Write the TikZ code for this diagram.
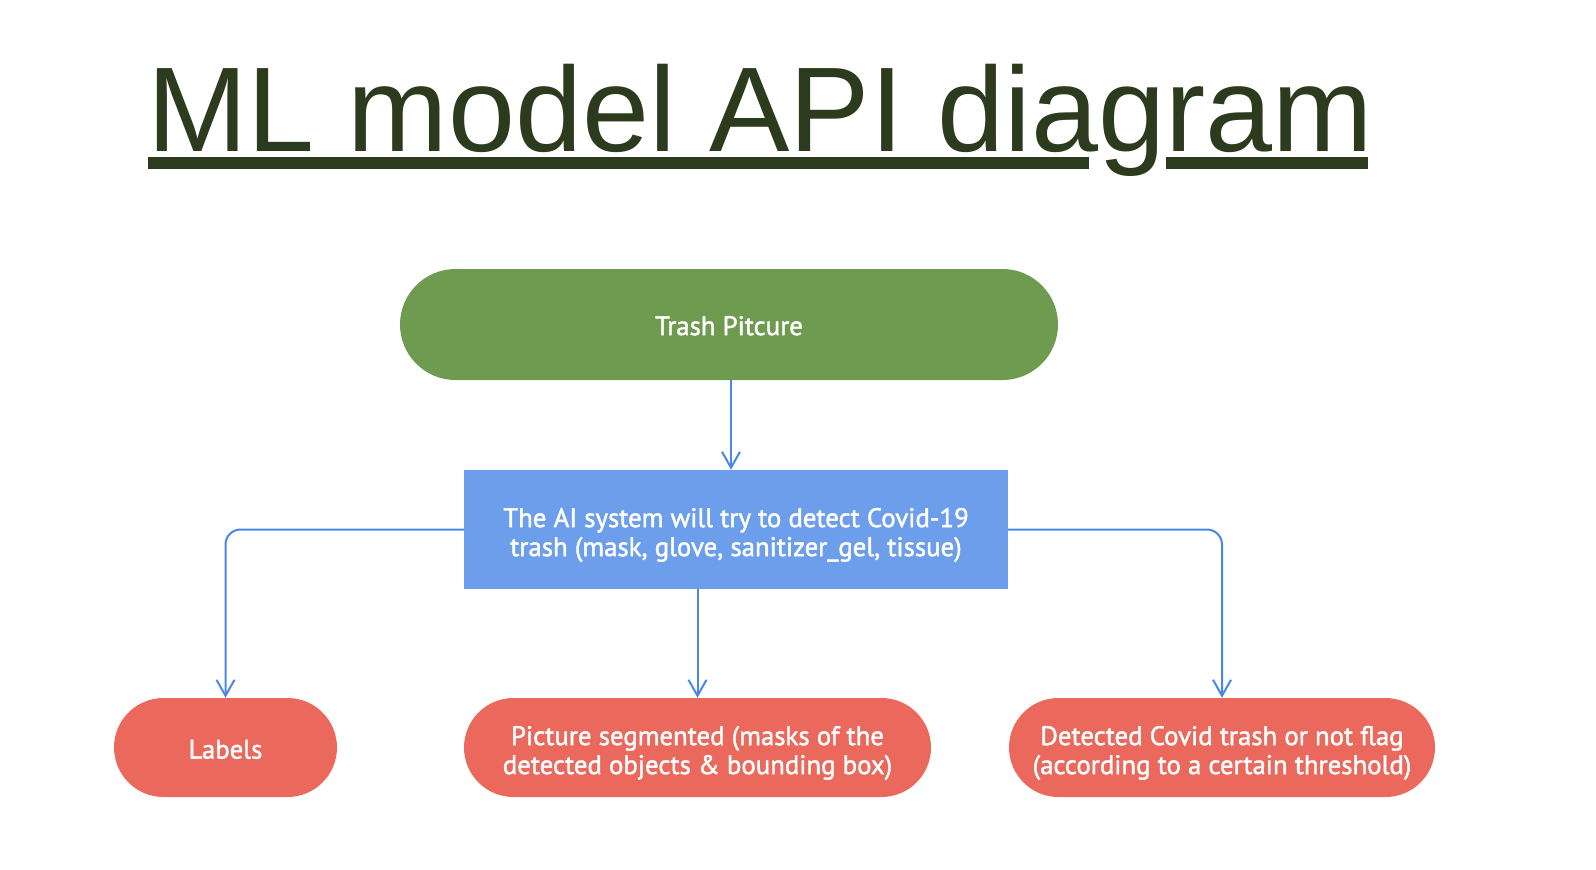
\documentclass[tikz,border=0pt]{standalone}
\usepackage{fontspec}
\setmainfont[FakeBold=1.6]{PT Sans}
\newfontfamily\titlefont{Liberation Sans}
\usetikzlibrary{arrows.meta,shapes.misc}
\definecolor{titlegreen}{HTML}{2C3A1D}
\definecolor{nodegreen}{HTML}{6E9B50}
\definecolor{nodeblue}{HTML}{6D9EEB}
\definecolor{nodered}{HTML}{EA695C}
\definecolor{linkblue}{HTML}{4A86E8}
\newcommand{\lift}[1]{\rule{0pt}{#1pt}}
\tikzset{
  txt/.style={text=white, font=\fontsize{26.8}{29}\selectfont, align=center, inner sep=0pt},
  pill/.style={rounded rectangle, txt, minimum height=#1},
  greenpill/.style={pill=111, fill=nodegreen},
  redpill/.style={pill=99, fill=nodered},
  bluebox/.style={rectangle, txt, fill=nodeblue},
  link/.style={draw=linkblue, line width=2, -{Straight Barb[length=16,width=18,line width=2]}},
}
\begin{document}
\begin{tikzpicture}[x=1pt, y=-1pt]
\useasboundingbox (0,0) rectangle (1596,870);
% title
\node[anchor=base west, inner sep=0pt, text=titlegreen, font=\titlefont\fontsize{120.5}{130}\selectfont] (title) at (147,151.7) {ML model API diagram};
\fill[titlegreen] (148.3,157.3) rectangle (1089,169);
\fill[titlegreen] (1166,157.3) rectangle (1368,169);
% nodes
\node[greenpill, minimum width=658] (pic0) at (729,324.5) {\lift{21.5}Trash Pitcure};
\node[bluebox, minimum width=544, minimum height=119] (ai) at (736,529.5) {\lift{30}The AI system will try to detect Covid-19\\trash (mask, glove, sanitizer\_gel, tissue)};
\node[redpill, minimum width=223] (labels) at (225.5,747.5) {\lift{22.5}Labels};
\node[redpill, minimum width=467] (seg) at (697.5,747.5) {\lift{30}Picture segmented (masks of the\\detected objects \& bounding box)};
\node[redpill, minimum width=426] (flag) at (1222,747.5) {\lift{30}Detected Covid trash or not flag\\(according to a certain threshold)};
% connectors
\draw[link] ([xshift=2]pic0.south) -- ([xshift=2]pic0.south |- ai.north);
\draw[link, rounded corners=15] (ai.west) -| (labels.north);
\draw[link] (ai.south -| seg.north) -- (seg.north);
\draw[link, rounded corners=15] (ai.east) -| (flag.north);
\end{tikzpicture}
\end{document}
